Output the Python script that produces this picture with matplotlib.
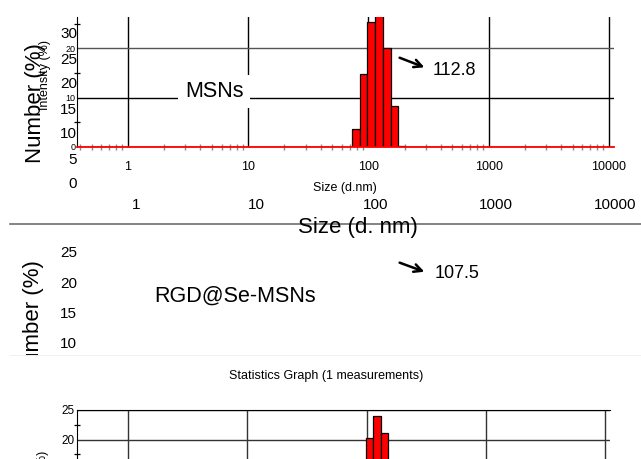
"""
Two stacked DLS size plots (MSNs / RGD@Se-MSNs) pasted over each other,
redrawn with matplotlib. Output: out.png (641x459 px).
"""

import numpy as np
import matplotlib.pyplot as plt
from matplotlib.patches import Rectangle, FancyArrowPatch
from matplotlib.lines import Line2D
from matplotlib.ticker import FixedLocator, NullLocator, LogLocator, NullFormatter

plt.rcParams['font.family'] = ['Liberation Sans', 'DejaVu Sans']

# ── Data ──
size_ticks   = [1, 10, 100, 1000, 10000]
size_labels  = ["1", "10", "100", "1000", "10000"]

outer_top_ticks = [0, 5, 10, 15, 20, 25, 30]
outer_low_ticks = [10, 15, 20, 25]
inner_top_ticks = [0, 10, 20]
inner_low_ticks = [20, 25]

# bin edges (d.nm) and number (%) per bin
msn_edges  = [72.6, 85.0, 98.2, 113.2, 131.8, 152.8, 175.3, 201.5]
msn_number = [3.6, 14.8, 25.3, 27.6, 20.0, 8.4, 0.3]
rgd_edges  = [98.2, 113.2, 131.8, 152.8]
rgd_number = [20.2, 23.9, 21.1]

msn_peak = "112.8"
rgd_peak = "107.5"

W, H = 641, 459


def fx(px):
    return px / W


def fy(py):
    return 1 - py / H


def px_axes(fig, left, top, right, bottom, zorder):
    ax = fig.add_axes([fx(left), fy(bottom), (right - left) / W, (bottom - top) / H],
                      zorder=zorder)
    ax.patch.set_visible(False)
    return ax


def log_lim(left, right, one_px, decade_px):
    return 10 ** ((left - one_px) / decade_px), 10 ** ((right - one_px) / decade_px)


def lin_lim(top, bottom, zero_px, unit_px):
    return (zero_px - bottom) / unit_px, (zero_px - top) / unit_px


def bare(ax):
    for s in ax.spines.values():
        s.set_visible(False)


fig = plt.figure(figsize=(6.41, 4.59), dpi=100)
fig.patch.set_facecolor("white")

# ── Outer (big) axis labels of the MSNs plot ──
ax_o1 = px_axes(fig, 77, 20, 640, 183, zorder=0)
ax_o1.set_xscale("log")
ax_o1.set_xlim(*log_lim(77, 640, 136, 119.9))
ax_o1.set_ylim(*lin_lim(20, 183, 183, 5.0))
ax_o1.xaxis.set_major_locator(FixedLocator(size_ticks))
ax_o1.set_xticklabels(size_labels)
ax_o1.xaxis.set_minor_locator(NullLocator())
ax_o1.set_yticks(outer_top_ticks)
ax_o1.tick_params(length=0, labelsize=11)
ax_o1.tick_params(axis="x", pad=11)
ax_o1.tick_params(axis="y", pad=0)
bare(ax_o1)

# ── Outer (big) axis labels of the RGD plot ──
ax_o2 = px_axes(fig, 77, 240, 640, 355, zorder=0)
ax_o2.set_ylim(*lin_lim(240, 355, 403.7, 6.07))
ax_o2.set_yticks(outer_low_ticks)
ax_o2.set_xticks([])
ax_o2.tick_params(length=0, labelsize=11, pad=0)
bare(ax_o2)

# ── Inner MSNs histogram ──
ax1 = px_axes(fig, 77, 17, 614, 147, zorder=1)
ax1.set_xscale("log")
ax1.set_xlim(*log_lim(77, 614, 128, 120.2))
ax1.set_ylim(*lin_lim(17, 147, 147, 4.93))
ax1.set_axisbelow(True)
ax1.bar(msn_edges[:-1], msn_number, width=np.diff(msn_edges), align="edge",
        color="#ff0000", edgecolor="black", linewidth=0.9, zorder=2)
ax1.xaxis.set_major_locator(FixedLocator(size_ticks))
ax1.set_xticklabels(size_labels)
ax1.xaxis.set_minor_locator(LogLocator(base=10, subs=np.arange(2, 10)))
ax1.xaxis.set_minor_formatter(NullFormatter())
ax1.set_yticks(inner_top_ticks)
ax1.yaxis.set_minor_locator(FixedLocator([5, 15, 25]))
ax1.tick_params(axis="x", which="major", length=0, labelsize=9, pad=10)
ax1.tick_params(axis="x", which="minor", direction="inout", length=4,
                color="#8a8a8a", width=1)
ax1.tick_params(axis="y", which="major", length=0, labelsize=6.5, pad=1)
ax1.tick_params(axis="y", which="minor", direction="inout", length=5, width=0.9)
ax1.grid(True, which="major", color="black", linewidth=1)
ax1.yaxis.get_gridlines()[2].set_color("#555555")
ax1.spines["top"].set_visible(False)
ax1.spines["right"].set_visible(False)
ax1.spines["left"].set_color("black")
ax1.spines["bottom"].set_color("#ff0000")
ax1.spines["bottom"].set_linewidth(1.3)
ax1.spines["bottom"].set_zorder(3)

# ── White pasted panel covering the lower left ──
fig.patches.append(Rectangle((fx(10), -0.05), 1 - fx(10), fy(355) + 0.05,
                             transform=fig.transFigure, facecolor="white",
                             edgecolor="none", zorder=1.5))
fig.add_artist(Line2D([fx(10), 1], [fy(355), fy(355)], transform=fig.transFigure,
                      color="#f0f0f0", linewidth=0.8, zorder=1.6))

# ── Inner RGD histogram (bottom cut off by the figure edge) ──
ax2 = px_axes(fig, 77, 410, 610, 557.5, zorder=2)
ax2.set_xscale("log")
ax2.set_xlim(*log_lim(77, 610, 128, 119.25))
ax2.set_ylim(0, 25)
ax2.set_axisbelow(True)
ax2.bar(rgd_edges[:-1], rgd_number, width=np.diff(rgd_edges), align="edge",
        color="#ff0000", edgecolor="black", linewidth=0.9, zorder=2)
ax2.xaxis.set_major_locator(FixedLocator(size_ticks))
ax2.xaxis.set_minor_locator(NullLocator())
ax2.set_xticklabels([])
ax2.set_yticks(inner_low_ticks)
ax2.yaxis.set_minor_locator(FixedLocator([17.5, 22.5]))
ax2.tick_params(axis="x", length=0)
ax2.tick_params(axis="y", which="major", length=0, labelsize=8.5, pad=2)
ax2.tick_params(axis="y", which="minor", direction="inout", length=5, width=0.9)
ax2.grid(True, which="major", color="#333333", linewidth=1)
ax2.spines["right"].set_visible(False)
ax2.spines["bottom"].set_visible(False)

# ── Texts ──
fig.text(fx(35), fy(103), "Number (%)", rotation=90, ha="center", va="center", fontsize=16)
fig.text(fx(45), fy(75), "Intensity (%)", rotation=90, ha="center", va="center", fontsize=9)
fig.text(fx(344.5), fy(188), "Size (d.nm)", ha="center", va="center", fontsize=9)
fig.text(fx(357.5), fy(233), "Size (d. nm)", ha="center", va="baseline", fontsize=16)
fig.text(fx(214), fy(97), "MSNs", ha="center", va="baseline", fontsize=15.5,
         bbox=dict(boxstyle="square,pad=0.3", facecolor="white", edgecolor="none"))
fig.text(fx(433), fy(75), msn_peak, ha="left", va="baseline", fontsize=13)
fig.add_artist(FancyArrowPatch((fx(397), fy(56.7)), (fx(427), fy(68.3)),
                               transform=fig.transFigure, arrowstyle="->",
                               mutation_scale=14, linewidth=1.8, color="black"))

fig.add_artist(Line2D([fx(10), 1], [fy(224), fy(224)], transform=fig.transFigure,
                      color="#6e6e6e", linewidth=1.2, zorder=2.5))

fig.text(fx(34), fy(320), "Number (%)", rotation=90, ha="center", va="center",
         fontsize=16, zorder=1)
fig.text(fx(235), fy(302), "RGD@Se-MSNs", ha="center", va="baseline", fontsize=15.5)
fig.text(fx(435), fy(278), rgd_peak, ha="left", va="baseline", fontsize=13)
fig.add_artist(FancyArrowPatch((fx(397), fy(261.7)), (fx(427), fy(272.7)),
                               transform=fig.transFigure, arrowstyle="->",
                               mutation_scale=14, linewidth=1.8, color="black"))

fig.text(fx(326), fy(376), "Statistics Graph (1 measurements)", ha="center",
         va="center", fontsize=9)
fig.text(fx(43), fy(484), "Number (%)", rotation=90, ha="center", va="center", fontsize=9)

fig.savefig("out.png", dpi=100)
